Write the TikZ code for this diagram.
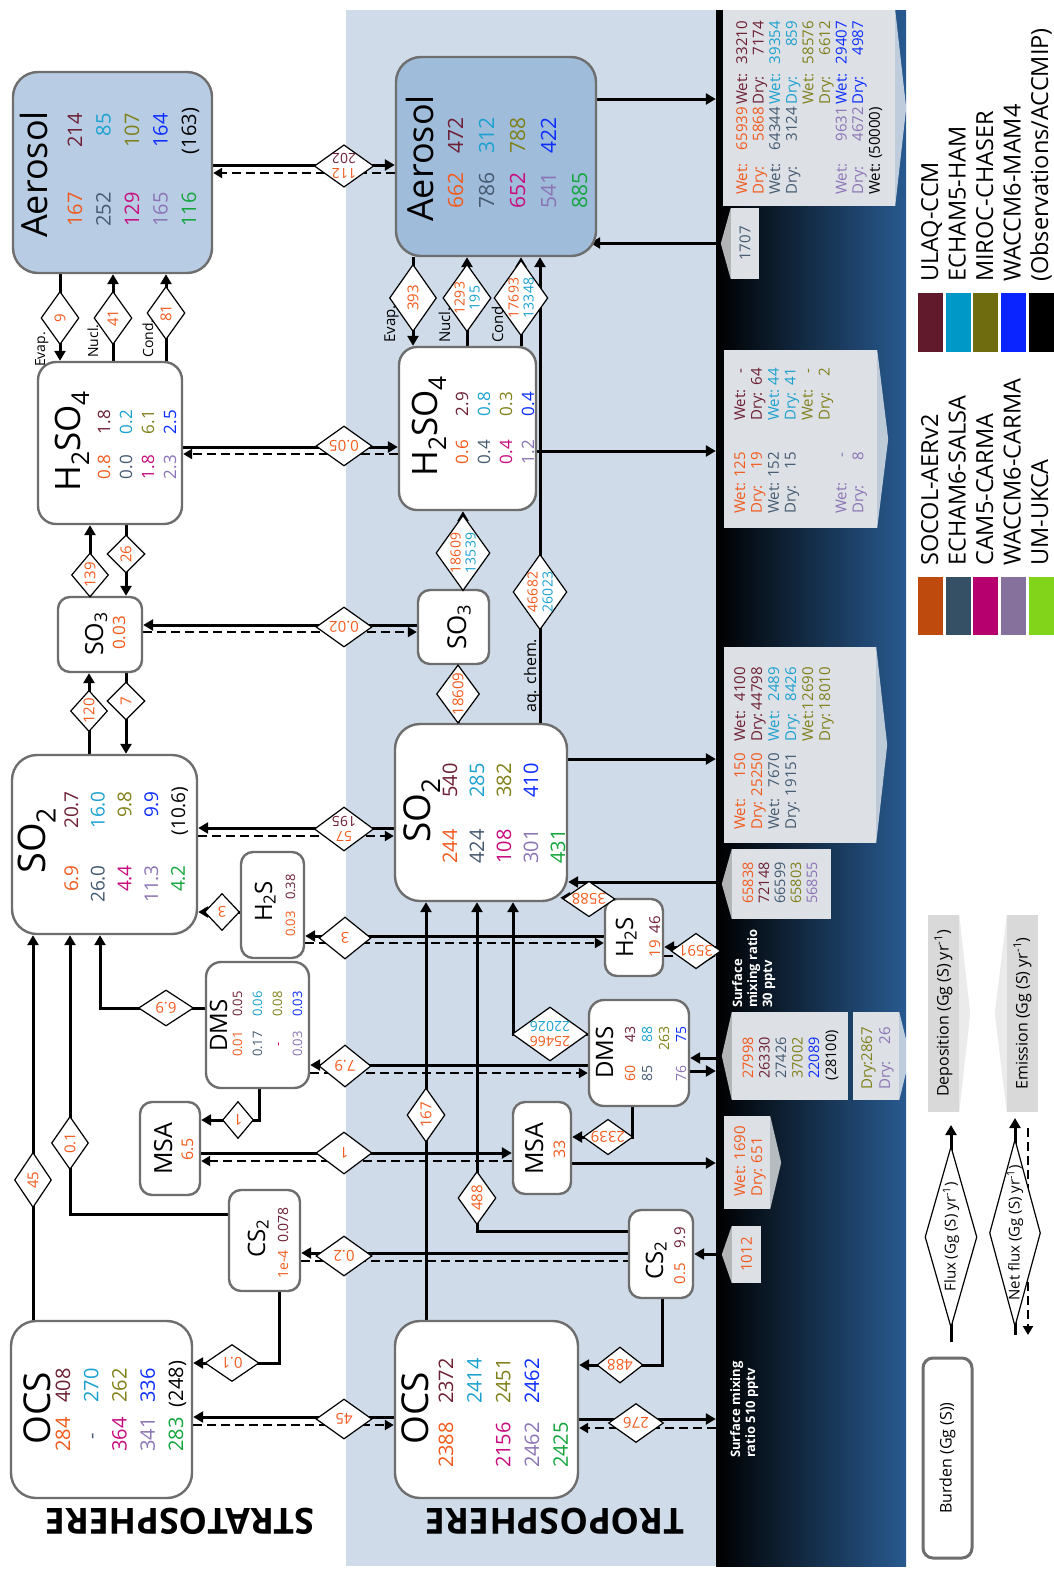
\documentclass[tikz,border=0pt]{standalone}
\usepackage{fontspec}
\setmainfont{Open Sans}
\usetikzlibrary{arrows.meta, positioning, shapes.geometric}

% model colours (text) and legend swatches
\definecolor{cso}{HTML}{F25A1D}
\definecolor{cul}{HTML}{6D1F33}
\definecolor{csa}{HTML}{445A70}
\definecolor{cha}{HTML}{1BA1CF}
\definecolor{cca}{HTML}{C80C7E}
\definecolor{cmi}{HTML}{80801A}
\definecolor{cwc}{HTML}{8B74B5}
\definecolor{cwm}{HTML}{0B2DFF}
\definecolor{cuk}{HTML}{14A53C}
\definecolor{kso}{HTML}{BE4A0D}
\definecolor{kul}{HTML}{601A2B}
\definecolor{ksa}{HTML}{354F65}
\definecolor{kha}{HTML}{0098C6}
\definecolor{kca}{HTML}{B6006E}
\definecolor{kmi}{HTML}{6E6C0F}
\definecolor{kwc}{HTML}{85719B}
\definecolor{kwm}{HTML}{0A24FF}
\definecolor{kuk}{HTML}{82D41B}
\definecolor{boxline}{HTML}{6E6E6E}
\definecolor{aerstrat}{HTML}{B8CDE4}
\definecolor{aertrop}{HTML}{A0BCDB}
\definecolor{tropband}{HTML}{CFDBE8}
\definecolor{soil}{HTML}{285A90}
\definecolor{panelgrey}{HTML}{DDE0E5}
\definecolor{keygrey}{HTML}{D9D9D9}

\pgfdeclarelayer{bands}
\pgfdeclarelayer{wires}
\pgfsetlayers{bands,wires,main}

\tikzset{
  pool/.style={draw=boxline, line width=2.4pt, fill=white, rounded corners=#1, inner sep=0pt},
  pool/.default=12pt,
  ttl/.style={rotate=90, inner sep=0pt, anchor=base west, font=\fontsize{#1}{#1}\selectfont},
  nb/.style={rotate=90, inner sep=0pt, anchor=base east, font=\fontsize{#1}{#1}\selectfont},
  nbw/.style={nb=#1, anchor=base west},
  mix/.style={rotate=90, inner sep=0pt, anchor=base west, text=white,
    font=\fontsize{13}{13}\selectfont\bfseries},
  flux/.style={diamond, draw, fill=white, line width=1.2pt, inner sep=0pt, aspect=1.4,
    text=cso, align=center, font=\fontsize{15}{16}\selectfont},
  vflux/.style={flux, rotate=90},
  hflux/.style={flux, rotate=180},
  pair/.style={font=\fontsize{14}{15}\selectfont},
  flow/.style={line width=3pt, -{Triangle[length=10pt, width=11pt]}},
  netflow/.style={line width=2.6pt, dash pattern=on 9pt off 5pt, -{Triangle[length=9pt, width=10pt]}},
  netline/.style={line width=2.6pt, dash pattern=on 9pt off 5pt},
  panel/.style={fill=panelgrey, inner sep=0pt},
  tip/.style={fill=white, fill opacity=0.7},
  keytip/.style={fill=black!8},
  layer/.style={rotate=180, font=\fontsize{36}{36}\selectfont\bfseries},
}

\begin{document}
\begin{tikzpicture}[x=1pt, y=-1pt]
\useasboundingbox (0,0) rectangle (1053,1575);
\begin{pgfonlayer}{bands}
  \fill[white] (0,0) rectangle (1053,1575);
  \fill[tropband] (346,10) rectangle (716,1566);
  \node[inner sep=0pt, minimum width=190, minimum height=1556,
    left color=black, right color=soil] (ground) at (811,788) {};
\end{pgfonlayer}

% stratosphere
\node[pool=25pt, fill=aerstrat, minimum width=199, minimum height=201] (aerS) at (112.5,172.5) {};
\node[pool=18pt, minimum width=144, minimum height=162] (hsS) at (110,443) {};
\node[pool, minimum width=84, minimum height=75] (so3S) at (100,634.5) {};
\node[pool=25pt, minimum width=185, minimum height=179] (so2S) at (104.5,844.5) {};
\node[pool, minimum width=63, minimum height=106] (h2sS) at (272.5,905) {};
\node[pool=15pt, minimum width=103, minimum height=126] (dmsS) at (257.5,1025) {};
\node[pool, minimum width=60, minimum height=93] (msaS) at (170,1148.5) {};
\node[pool, minimum width=71, minimum height=101] (cs2S) at (264.5,1240.5) {};
\node[pool=25pt, minimum width=181, minimum height=177] (ocsS) at (101.5,1409.5) {};

% troposphere
\node[pool=25pt, fill=aertrop, minimum width=200, minimum height=199] (aerT) at (496,156.5) {};
\node[pool=18pt, minimum width=137, minimum height=163] (hsT) at (467.5,428.5) {};
\node[pool, minimum width=71, minimum height=74] (so3T) at (453.5,627) {};
\node[pool=25pt, minimum width=172, minimum height=177] (so2T) at (481,812.5) {};
\node[pool, minimum width=58, minimum height=77] (h2sT) at (634,937.5) {};
\node[pool=15pt, minimum width=100, minimum height=106] (dmsT) at (639,1053) {};
\node[pool, minimum width=58, minimum height=92] (msaT) at (542,1148) {};
\node[pool, minimum width=64, minimum height=88] (cs2T) at (661,1254) {};
\node[pool=25pt, minimum width=183, minimum height=177] (ocsT) at (486.5,1409.5) {};

% burdens, stratosphere
\node[ttl=36] (aerS-t) at (47,238) {Aerosol};
\foreach \i/\val/\col in {0/167/cso,1/252/csa,2/129/cca,3/165/cwc,4/116/cuk}
  \node[nb=20, text=\col] (aerS-a\i) at (82+28.5*\i,192) {\val};
\foreach \i/\val/\col in {0/214/cul,1/85/cha,2/107/cmi,3/164/cwm}
  \node[nb=20, text=\col] (aerS-b\i) at (82+28.5*\i,113) {\val};
\node[nb=20, anchor=base] (aerS-b4) at (196,131) {(163)};

\node[ttl=35] (hsS-t) at (80,492) {H\textsubscript{2}SO\textsubscript{4}};
\foreach \i/\val/\col in {0/0.8/cso,1/0.0/csa,2/1.8/cca,3/2.3/cwc}
  \node[nb=17, text=\col] (hsS-a\i) at (110+22*\i,455) {\val};
\foreach \i/\val/\col in {0/1.8/cul,1/0.2/cha,2/6.1/cmi,3/2.5/cwm}
  \node[nb=17, text=\col] (hsS-b\i) at (110+22*\i,410) {\val};

\node[ttl=25] (so3S-t) at (103,656) {SO\textsubscript{3}};
\node[nb=17, text=cso] (so3S-a0) at (125,616) {0.03};

\node[ttl=38] (so2S-t) at (45,874) {SO\textsubscript{2}};
\foreach \i/\val/\col in {0/6.9/cso,1/26.0/csa,2/4.4/cca,3/11.3/cwc,4/4.2/cuk}
  \node[nb=19, text=\col] (so2S-a\i) at (78+26.7*\i,865) {\val};
\foreach \i/\val/\col in {0/20.7/cul,1/16.0/cha,2/9.8/cmi,3/9.9/cwm}
  \node[nb=19, text=\col] (so2S-b\i) at (78+26.7*\i,791) {\val};
\node[nb=19, anchor=base] (so2S-b4) at (185,811) {(10.6)};

\node[ttl=24] (h2sS-t) at (272,922) {H\textsubscript{2}S};
\node[nb=13, text=cso] (h2sS-a0) at (295,911) {0.03};
\node[nb=13, text=cul] (h2sS-b0) at (295,874) {0.38};

\node[ttl=24] (dmsS-t) at (227,1052) {DMS};
\foreach \i/\val/\col in {0/0.01/cso,1/0.17/csa,3/0.03/cwc}
  \node[nb=13, text=\col] (dmsS-a\i) at (242+20*\i,1031) {\val};
\node[nb=13, text=cca, anchor=base] (dmsS-a2) at (282,1044) {-};
\foreach \i/\val/\col in {0/0.05/cul,1/0.06/cha,2/0.08/cmi,3/0.03/cwm}
  \node[nb=13, text=\col] (dmsS-b\i) at (242+20*\i,991) {\val};

\node[ttl=25] (msaS-t) at (172,1175) {MSA};
\node[nb=16, text=cso] (msaS-a0) at (193,1138) {6.5};

\node[ttl=24] (cs2S-t) at (265,1258) {CS\textsubscript{2}};
\node[nb=14, text=cso] (cs2S-a0) at (288,1250) {1e-4};
\node[nb=14, text=cul] (cs2S-b0) at (288,1207) {0.078};

\node[ttl=37] (ocsS-t) at (50,1445) {OCS};
\foreach \i/\val/\col in {0/284/cso,2/364/cca,3/341/cwc,4/283/cuk}
  \node[nb=20, text=\col] (ocsS-a\i) at (70+28.3*\i,1417) {\val};
\node[nb=20, text=csa, anchor=base] (ocsS-a1) at (98,1436) {-};
\foreach \i/\val/\col in {0/408/cul,1/270/cha,2/262/cmi,3/336/cwm}
  \node[nb=20, text=\col] (ocsS-b\i) at (70+28.3*\i,1368) {\val};
\node[nb=20, anchor=base] (ocsS-b4) at (183,1384) {(248)};

% burdens, troposphere
\node[ttl=36] (aerT-t) at (433,222) {Aerosol};
\foreach \i/\val/\col in {0/662/cso,1/786/csa,2/652/cca,3/541/cwc,4/885/cuk}
  \node[nb=21, text=\col] (aerT-a\i) at (463+31*\i,172) {\val};
\foreach \i/\val/\col in {0/472/cul,1/312/cha,2/788/cmi,3/422/cwm}
  \node[nb=21, text=\col] (aerT-b\i) at (463+31*\i,117) {\val};

\node[ttl=35] (hsT-t) at (437,477) {H\textsubscript{2}SO\textsubscript{4}};
\foreach \i/\val/\col in {0/0.6/cso,1/0.4/csa,2/0.4/cca,3/1.2/cwc}
  \node[nb=17, text=\col] (hsT-a\i) at (468+22*\i,440) {\val};
\foreach \i/\val/\col in {0/2.9/cul,1/0.8/cha,2/0.3/cmi,3/0.4/cwm}
  \node[nb=17, text=\col] (hsT-b\i) at (468+22*\i,392) {\val};

\node[ttl=26] (so3T-t) at (466,650) {SO\textsubscript{3}};

\node[ttl=37] (so2T-t) at (430,843) {SO\textsubscript{2}};
\foreach \i/\val/\col in {0/244/cso,1/424/csa,2/108/cca,3/301/cwc,4/431/cuk}
  \node[nb=20, text=\col] (so2T-a\i) at (457+27*\i,829) {\val};
\foreach \i/\val/\col in {0/540/cul,1/285/cha,2/382/cmi,3/410/cwm}
  \node[nb=20, text=\col] (so2T-b\i) at (457+27*\i,763) {\val};

\node[ttl=24] (h2sT-t) at (633,958) {H\textsubscript{2}S};
\node[nb=15, text=cso] (h2sT-a0) at (660,940) {19};
\node[nb=15, text=cul] (h2sT-b0) at (660,916) {46};

\node[ttl=24] (dmsT-t) at (613,1079) {DMS};
\foreach \i/\val/\col in {0/60/cso,1/85/csa,3/76/cwc}
  \node[nb=14, text=\col] (dmsT-a\i) at (635+17*\i,1065) {\val};
\foreach \i/\val/\col in {0/43/cul,1/88/cha,2/263/cmi,3/75/cwm}
  \node[nb=14, text=\col] (dmsT-b\i) at (635+17*\i,1026) {\val};

\node[ttl=25] (msaT-t) at (543,1175) {MSA};
\node[nb=16, text=cso] (msaT-a0) at (565,1140) {33};

\node[ttl=24] (cs2T-t) at (663,1280) {CS\textsubscript{2}};
\node[nb=15, text=cso] (cs2T-a0) at (685,1263) {0.5};
\node[nb=15, text=cul] (cs2T-b0) at (685,1227) {9.9};

\node[ttl=37] (ocsT-t) at (428,1445) {OCS};
\foreach \i/\val/\col in {0/2388/cso,2/2156/cca,3/2462/cwc,4/2425/cuk}
  \node[nb=20, text=\col] (ocsT-a\i) at (453+28.7*\i,1422) {\val};
\foreach \i/\val/\col in {0/2372/cul,1/2414/cha,2/2451/cmi,3/2462/cwm}
  \node[nb=20, text=\col] (ocsT-b\i) at (453+28.7*\i,1358) {\val};

% process labels
\node[ttl=14] (lbEvS) at (45,367) {Evap.};
\node[ttl=14] (lbNuS) at (98,358) {Nucl.};
\node[ttl=14] (lbCoS) at (153,358) {Cond.};
\node[ttl=15] (lbEvT) at (395,343) {Evap.};
\node[ttl=15] (lbNuT) at (450,343) {Nucl.};
\node[ttl=15] (lbCoT) at (503,343) {Cond.};
\node[ttl=16] (lbAq) at (536,713) {aq. chem.};

\node[layer] (strato) at (180,1521.5) {STRATOSPHERE};
\node[layer] (tropo) at (555,1521.5) {TROPOSPHERE};

% fluxes
\node[vflux, minimum width=53, minimum height=38] (d9) at (60,318) {9};
\node[vflux, minimum width=53, minimum height=38] (d41) at (113,318) {41};
\node[vflux, minimum width=53, minimum height=38] (d81) at (166,313) {81};
\node[vflux, minimum width=44, minimum height=37] (d139) at (90,575) {139};
\node[vflux, minimum width=38, minimum height=38] (d26) at (126,554) {26};
\node[vflux, minimum width=40, minimum height=37] (d120) at (89,711) {120};
\node[vflux, minimum width=38, minimum height=38] (d7) at (126,701) {7};
\node[vflux, minimum width=55, minimum height=37] (d45) at (33,1180) {45};
\node[vflux, minimum width=53, minimum height=37] (d01a) at (70,1143) {0.1};
\node[hflux, minimum width=35, minimum height=37] (d3) at (222,912) {3};
\node[hflux, minimum width=55, minimum height=36] (d69) at (166,1008) {6.9};
\node[hflux, minimum width=31, minimum height=37] (d1) at (238,1120) {1};
\node[hflux, minimum width=54, minimum height=37] (d01b) at (232,1363) {0.1};

\node[hflux, pair, minimum width=56, minimum height=42] (xAer) at (344,166) {112\\\textcolor{cul}{202}};
\node[hflux, minimum width=56, minimum height=40] (xHs) at (344,446) {0.05};
\node[hflux, minimum width=56, minimum height=40] (xSo3) at (344,627) {0.02};
\node[hflux, pair, minimum width=56, minimum height=44] (xSo2) at (344,829) {57\\\textcolor{cul}{195}};
\node[hflux, minimum width=52, minimum height=42] (xH2s) at (345,938) {3};
\node[hflux, minimum width=52, minimum height=42] (xDms) at (345,1066) {7.9};
\node[hflux, minimum width=56, minimum height=42] (xMsa) at (344,1153) {1};
\node[hflux, minimum width=56, minimum height=40] (xCs2) at (344,1256) {0.2};
\node[hflux, minimum width=56, minimum height=40] (xOcs) at (344,1419) {45};

\node[vflux, minimum width=67, minimum height=47] (d393) at (413,298) {393};
\node[vflux, pair, minimum width=67, minimum height=47] (d1293) at (467,298) {1293\\\textcolor{cha}{195}};
\node[vflux, pair, minimum width=67, minimum height=50] (d17693) at (521,298) {17693\\\textcolor{cha}{13348}};
\node[vflux, pair, minimum width=66, minimum height=54] (d18609a) at (463,553) {18609\\\textcolor{cha}{13539}};
\node[vflux, minimum width=56, minimum height=43] (d18609b) at (458,694) {18609};
\node[vflux, pair, minimum width=71, minimum height=52] (d46682) at (540,592) {46682\\\textcolor{cha}{26023}};
\node[vflux, minimum width=54, minimum height=38] (d167) at (426,1115) {167};
\node[vflux, minimum width=53, minimum height=38] (d488a) at (477,1198) {488};
\node[hflux, minimum width=52, minimum height=29] (d3588) at (589,899) {3588};
\node[hflux, minimum width=42, minimum height=32] (d3591) at (696,951) {3591};
\node[hflux, pair, minimum width=73, minimum height=54] (d25466) at (550,1034) {25466\\\textcolor{cha}{22026}};
\node[hflux, minimum width=45, minimum height=33] (d2339) at (608,1137) {2339};
\node[hflux, minimum width=46, minimum height=36] (d488b) at (620,1365) {488};
\node[hflux, minimum width=55, minimum height=39] (d276) at (636,1423) {276};

\begin{pgfonlayer}{wires}
  % stratosphere
  \draw[flow] (aerS.south -| d9) -- (hsS.north -| d9);
  \draw[flow] (hsS.north -| d41) -- (aerS.south -| d41);
  \draw[flow] (hsS.north -| d81) -- (aerS.south -| d81);
  \draw[flow] (so3S.north -| d139) -- (hsS.south -| d139);
  \draw[flow] (hsS.south -| d26) -- (so3S.north -| d26);
  \draw[flow] (so2S.north -| d120) -- (so3S.south -| d120);
  \draw[flow] (so3S.south -| d7) -- (so2S.north -| d7);
  \draw[flow] (ocsS.north -| d45) -- (so2S.south -| d45);
  \draw[flow] (cs2S.west |- 0,1214) -| (so2S.south -| d01a);
  \draw[flow] (dmsS.west |- d69) -| (so2S.south -| 100,0);
  \draw[flow] (h2sS.west |- d3) -- (so2S.east |- d3);
  \draw[flow] (dmsS.south -| 259,0) |- (msaS.east |- d1);
  \draw[flow] (cs2S.south -| 279,0) |- (ocsS.east |- d01b);
  % across the tropopause
  \draw[flow] (aerS.east |- 0,165) -- (aerT.west |- 0,165);
  \draw[netflow] (aerT.west |- 0,173) -- (aerS.east |- 0,173);
  \draw[flow] (hsS.east |- 0,447) -- (hsT.west |- 0,447);
  \draw[netflow] (hsT.west |- 0,454) -- (hsS.east |- 0,454);
  \draw[flow] (so3T.west |- 0,625) -- (so3S.east |- 0,625);
  \draw[netflow] (so3S.east |- 0,632) -- (so3T.west |- 0,632);
  \draw[flow] (so2T.west |- 0,828) -- (so2S.east |- 0,828);
  \draw[netflow] (so2S.east |- 0,836) -- (so2T.west |- 0,836);
  \draw[flow] (h2sT.west |- 0,936) -- (h2sS.east |- 0,936);
  \draw[netflow] (h2sS.east |- 0,943) -- (h2sT.west |- 0,943);
  \draw[flow] (dmsT.west |- 0,1065) -- (dmsS.east |- 0,1065);
  \draw[netflow] (dmsS.east |- 0,1073) -- (dmsT.west |- 0,1073);
  \draw[flow] (msaS.east |- 0,1153) -- (msaT.west |- 0,1153);
  \draw[netflow] (msaT.west |- 0,1161) -- (msaS.east |- 0,1161);
  \draw[flow] (cs2T.west |- 0,1253) -- (cs2S.east |- 0,1253);
  \draw[netline] (cs2S.east |- 0,1261) -- (cs2T.west |- 0,1261);
  \draw[flow] (ocsT.west |- 0,1417) -- (ocsS.east |- 0,1417);
  \draw[netflow] (ocsS.east |- 0,1425) -- (ocsT.west |- 0,1425);
  % troposphere
  \draw[flow] (aerT.south -| d393) -- (hsT.north -| d393);
  \draw[flow] (hsT.north -| d1293) -- (aerT.south -| d1293);
  \draw[flow] (hsT.north -| d17693) -- (aerT.south -| d17693);
  \draw[flow] (so3T.north -| d18609a) -- (hsT.south -| d18609a);
  \draw[flow] (so2T.north -| d18609b) -- (so3T.south -| d18609b);
  \draw[flow] (so2T.north -| d46682) -- (aerT.south -| d46682);
  \draw[flow] (ocsT.north -| d167) -- (so2T.south -| d167);
  \draw[flow] (cs2T.west |- 0,1231) -| (so2T.south -| d488a);
  \draw[flow] (dmsT.west |- d25466) -| (so2T.south -| 513,0);
  \draw[flow] (h2sT.north west) -- ([xshift=-8pt]so2T.south east |- h2sT.north west);
  \draw[flow] (dmsT.south -| 632,0) |- (msaT.east |- d2339);
  \draw[flow] (cs2T.south -| 662,0) |- (ocsT.east |- d488b);
  % surface
  \draw[flow] (aerT.east |- 0,99) -- (ground.west |- 0,99);
  \draw[flow] (ground.west |- 0,243) -- ([xshift=-7pt]aerT.east |- 0,243);
  \draw[flow] (hsT.east |- 0,451) -- (ground.west |- 0,451);
  \draw[flow] (so2T.east |- 0,759) -- (ground.west |- 0,759);
  \draw[flow] (ground.west |- 0,882) -- (so2T.east |- 0,882);
  \draw[flow] (ground.west |- 0,947) -- (h2sT.east |- 0,947);
  \draw[netflow] (h2sT.east |- 0,956) -- (ground.west |- 0,956);
  \draw[flow] (ground.west |- 0,1058) -- (dmsT.east |- 0,1058);
  \draw[flow] (dmsT.east |- 0,1071) -- (ground.west |- 0,1071);
  \draw[flow] (msaT.east |- 0,1163) -- (ground.west |- 0,1163);
  \draw[flow] (ground.west |- 0,1254) -- (cs2T.east |- 0,1254);
  \draw[flow] (ocsT.east |- 0,1419) -- (ground.west |- 0,1419);
  \draw[netflow] (ground.west |- 0,1428) -- (ocsT.east |- 0,1428);
  % key
  \coordinate (fluxA) at (951,1342);
  \coordinate (fluxB) at (951,1125);
  \coordinate (netA) at (1015,1335);
  \coordinate (netB) at (1015,1118);
  \coordinate (netC) at (1028,1128);
  \coordinate (netD) at (1028,1335);
  \draw[flow] (fluxA) -- (fluxB);
  \draw[flow] (netA) -- (netB);
  \draw[netflow] (netC) -- (netD);
\end{pgfonlayer}

% surface exchange panels
\node[panel, minimum width=172, minimum height=196] (depA) at (809,108) {};
\node[panel, minimum width=28, minimum height=71] (emiA) at (745,243.5) {};
\node[panel, minimum width=153, minimum height=178] (depH) at (800.5,439) {};
\node[panel, minimum width=152, minimum height=196] (depS) at (800,745) {};
\node[panel, minimum width=99, minimum height=70] (emiS) at (781.5,884) {};
\node[panel, minimum width=116, minimum height=88] (emiD) at (790,1056) {};
\node[panel, minimum width=46, minimum height=88] (depD) at (876,1056) {};
\node[panel, minimum width=46, minimum height=93] (depM) at (747,1162.5) {};
\node[panel, minimum width=29, minimum height=57] (emiC) at (746.5,1254.5) {};
\foreach \p in {depA,depH,depS,depD,depM}
  \fill[tip] (\p.north east) -- ([xshift=11pt]\p.east) -- (\p.south east) -- cycle;
\foreach \p in {emiA,emiS,emiD,emiC}
  \fill[tip] (\p.north west) -- ([xshift=-10pt]\p.west) -- (\p.south west) -- cycle;

\foreach \i/\lbl/\val/\col in {0/Wet/65939/cso,1/Dry/5868/cso,2/Wet/64344/csa,3/Dry/3124/csa,6/Wet/9631/cwc,7/Dry/4672/cwc,8/Wet/(50000)/black}{
  \node[nbw=15, text=\col] (depA-l\i) at (747+16.6*\i,195) {\lbl:};
  \node[nb=15, text=\col] (depA-v\i) at (747+16.6*\i,107) {\val};}
\foreach \i/\lbl/\val/\col in {0/Wet/33210/cul,1/Dry/7174/cul,2/Wet/39354/cha,3/Dry/859/cha,4/Wet/58576/cmi,5/Dry/6612/cmi,6/Wet/29407/cwm,7/Dry/4987/cwm}{
  \node[nbw=15, text=\col] (depA-m\i) at (747+16.6*\i,105) {\lbl:};
  \node[nb=15, text=\col] (depA-u\i) at (747+16.6*\i,21) {\val};}
\node[rotate=90, font=\fontsize{15}{15}\selectfont, text=csa] (emiA-v) at (emiA) {1707};

\foreach \i/\lbl/\val/\col in {0/Wet/125/cso,1/Dry/19/cso,2/Wet/152/csa,3/Dry/15/csa,6/Wet/-/cwc,7/Dry/8/cwc}{
  \node[nbw=15, text=\col] (depH-l\i) at (745+16.9*\i,514) {\lbl:};
  \node[nb=15, text=\col] (depH-v\i) at (745+16.9*\i,452) {\val};}
\foreach \i/\lbl/\val/\col in {0/Wet/-/cul,1/Dry/64/cul,2/Wet/44/cha,3/Dry/41/cha,4/Wet/-/cmi,5/Dry/2/cmi}{
  \node[nbw=15, text=\col] (depH-m\i) at (745+16.9*\i,421) {\lbl:};
  \node[nb=15, text=\col] (depH-u\i) at (745+16.9*\i,368) {\val};}

\foreach \i/\lbl/\val/\col in {0/Wet/150/cso,1/Dry/25250/cso,2/Wet/7670/csa,3/Dry/19151/csa}{
  \node[nbw=15, text=\col] (depS-l\i) at (745+17*\i,830) {\lbl:};
  \node[nb=15, text=\col] (depS-v\i) at (745+17*\i,753) {\val};}
\foreach \i/\lbl/\val/\col in {0/Wet/4100/cul,1/Dry/44798/cul,2/Wet/2489/cha,3/Dry/8426/cha,4/Wet/12690/cmi,5/Dry/18010/cmi}{
  \node[nbw=15, text=\col] (depS-m\i) at (745+17*\i,742) {\lbl:};
  \node[nb=15, text=\col] (depS-u\i) at (745+17*\i,667) {\val};}

\foreach \i/\val/\col in {0/65838/cso,1/72148/cul,2/66599/csa,3/65803/cmi,4/56855/cwc}
  \node[nb=14.5, text=\col] (emiS-v\i) at (753+16*\i,862) {\val};
\foreach \i/\val/\col in {0/27998/cso,1/26330/cul,2/27426/csa,3/37002/cmi,4/22089/cwm}
  \node[nb=14.5, text=\col] (emiD-v\i) at (753+16.5*\i,1037) {\val};
\node[nb=14.5] (emiD-v5) at (836,1030) {(28100)};
\foreach \i/\val/\col in {0/2867/cmi,1/26/cwc}{
  \node[nbw=15, text=\col] (depD-l\i) at (872+18*\i,1090) {Dry:};
  \node[nb=15, text=\col] (depD-v\i) at (872+18*\i,1027) {\val};}
\node[nbw=15, text=cso] (depM-a) at (745,1197) {Wet: 1690};
\node[nbw=15, text=cso] (depM-b) at (762,1197) {Dry: 651};
\node[rotate=90, font=\fontsize{15}{15}\selectfont, text=cso] (emiC-v) at (emiC) {1012};

\node[mix] (mixD1) at (742,1008) {Surface};
\node[mix] (mixD2) at (757,1008) {mixing ratio};
\node[mix] (mixD3) at (772,1008) {30 pptv};
\node[mix] (mixO1) at (740,1458) {Surface mixing};
\node[mix] (mixO2) at (755,1458) {ratio 510 pptv};

% key
\foreach \i/\col in {0/kul,1/kha,2/kmi,3/kwm,4/black}
  \fill[\col] (918+27.7*\i,293) rectangle ++(25,59);
\foreach \i/\col in {0/kso,1/ksa,2/kca,3/kwc,4/kuk}
  \fill[\col] (918+27.7*\i,577) rectangle ++(25,58);
\node[ttl=23.5] (keyUl) at (938,282) {ULAQ-CCM};
\node[ttl=23.5] (keyHa) at (965.5,282) {ECHAM5-HAM};
\node[ttl=23.5] (keyMi) at (993,282) {MIROC-CHASER};
\node[ttl=23.5] (keyWm) at (1020.5,282) {WACCM6-MAM4};
\node[ttl=23.5] (keyOb) at (1048,282) {(Observations/ACCMIP)};
\node[ttl=23.5] (keySo) at (938,566) {SOCOL-AERv2};
\node[ttl=23.5] (keySa) at (965.5,566) {ECHAM6-SALSA};
\node[ttl=23.5] (keyCa) at (993,566) {CAM5-CARMA};
\node[ttl=23.5] (keyWc) at (1020.5,566) {WACCM6-CARMA};
\node[ttl=23.5] (keyUk) at (1048,566) {UM-UKCA};

\node[panel, fill=keygrey, minimum width=31, minimum height=197] (keyDep) at (943.5,1013.5) {};
\node[panel, fill=keygrey, minimum width=31, minimum height=197] (keyEmi) at (1022.5,1013.5) {};
\fill[keytip] (keyDep.north east) -- ([xshift=11pt]keyDep.east) -- (keyDep.south east) -- cycle;
\fill[keytip] (keyEmi.north west) -- ([xshift=-12pt]keyEmi.west) -- (keyEmi.south west) -- cycle;
\node[rotate=90, font=\fontsize{16}{16}\selectfont] (keyDepT) at (keyDep) {Deposition (Gg (S) yr\textsuperscript{-1})};
\node[rotate=90, font=\fontsize{16}{16}\selectfont] (keyEmiT) at (keyEmi) {Emission (Gg (S) yr\textsuperscript{-1})};

\node[vflux, aspect=3.5, inner sep=-6pt, text=black, font=\fontsize{15}{15}\selectfont,
  minimum width=181, minimum height=52] (keyFlux) at (951,1237) {Flux (Gg (S) yr\textsuperscript{-1})};
\node[vflux, aspect=3.5, inner sep=-6pt, text=black, font=\fontsize{15}{15}\selectfont,
  minimum width=187, minimum height=51] (keyNet) at (1015,1233) {Net flux (Gg (S) yr\textsuperscript{-1})};

\node[pool=10pt, line width=3pt, minimum width=49, minimum height=200] (keyPool) at (947.5,1458) {};
\node[rotate=90, font=\fontsize{16}{16}\selectfont] (keyPoolT) at (keyPool) {Burden (Gg (S))};
\end{tikzpicture}
\end{document}
